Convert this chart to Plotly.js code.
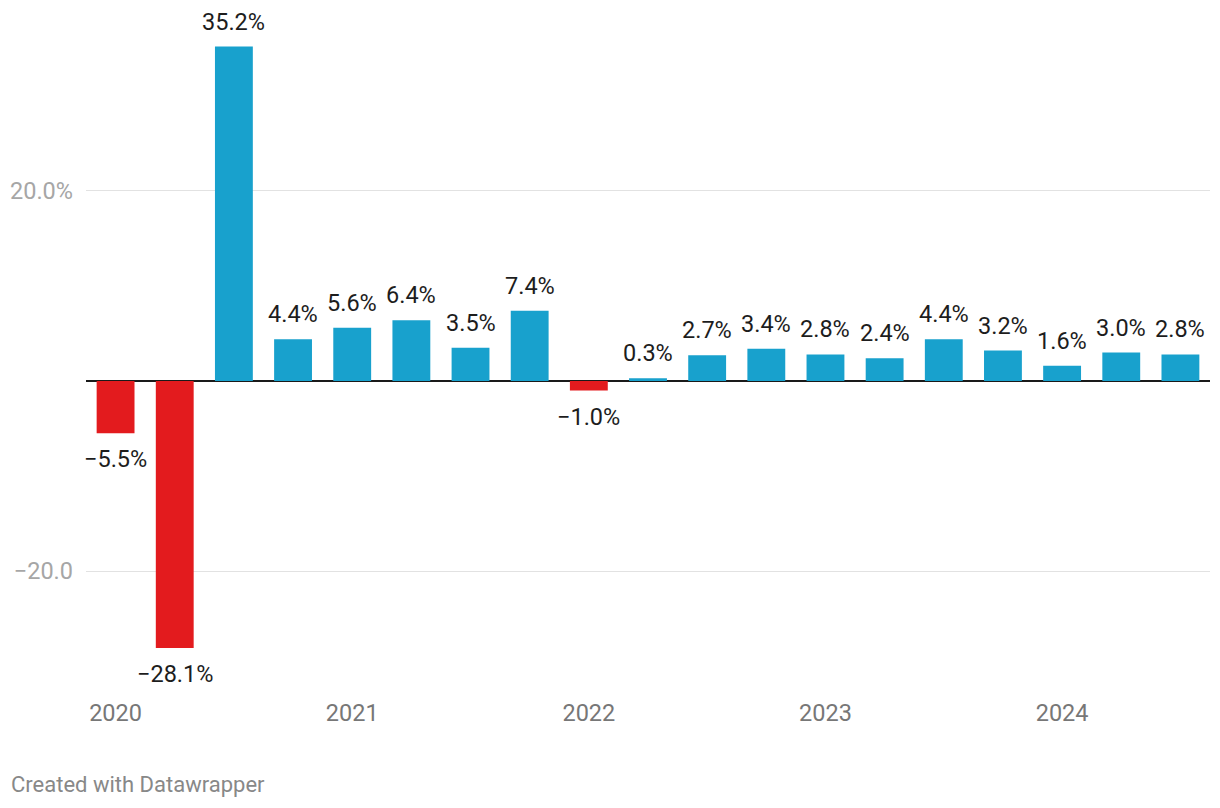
<!DOCTYPE html>
<html>
<head>
<meta charset="utf-8">
<script src="https://cdn.plot.ly/plotly-3.0.1.min.js"></script>
<style>
html,body{margin:0;padding:0;background:#fff;}
#chart{width:1220px;height:808px;}
</style>
</head>
<body>
<div id="chart"></div>
<script>
const quarters = ['2020 Q1','2020 Q2','2020 Q3','2020 Q4','2021 Q1','2021 Q2','2021 Q3','2021 Q4','2022 Q1','2022 Q2','2022 Q3','2022 Q4','2023 Q1','2023 Q2','2023 Q3','2023 Q4','2024 Q1','2024 Q2','2024 Q3'];
const growth = [-5.5, -28.1, 35.2, 4.4, 5.6, 6.4, 3.5, 7.4, -1.0, 0.3, 2.7, 3.4, 2.8, 2.4, 4.4, 3.2, 1.6, 3.0, 2.8];
const yearTickVals = ['2020 Q1','2021 Q1','2022 Q1','2023 Q1','2024 Q1'];
const yearTickText = ['2020','2021','2022','2023','2024'];
const yTickVals = [20, 0, -20];
const yTickText = ['20.0%', '', '\u221220.0'];

const BLUE = '#18a1cd', RED = '#e31b1e';
const fmt = v => (v < 0 ? '\u2212' : '') + Math.abs(v).toFixed(1) + '%';

const trace = {
  type: 'bar',
  x: quarters,
  y: growth,
  marker: {color: growth.map(v => v < 0 ? RED : BLUE)},
  width: 0.64,
  hoverinfo: 'x+y'
};

const annotations = quarters.map((q, i) => ({
  x: q, y: growth[i], xref: 'x', yref: 'y',
  text: fmt(growth[i]), showarrow: false,
  yshift: growth[i] >= 0 ? 25 : -26,
  font: {family: 'Roboto', size: 23.5, color: '#1d1d1d'}
}));
annotations.push({
  xref: 'paper', yref: 'paper', x: 0, y: 0, xanchor: 'left', yanchor: 'middle',
  xshift: -77, yshift: -104,
  text: 'Created with Datawrapper', showarrow: false,
  font: {family: 'Roboto', size: 22, color: '#888888'}
});

const layout = {
  width: 1220, height: 808,
  margin: {l: 86, r: 10, t: 10, b: 128},
  paper_bgcolor: '#fff', plot_bgcolor: '#fff',
  showlegend: false,
  bargap: 0.36,
  xaxis: {
    type: 'category', range: [-0.5, 18.5],
    tickvals: yearTickVals, ticktext: yearTickText,
    ticks: '', showgrid: false, zeroline: false, showline: false,
    ticklabelstandoff: 16,
    tickfont: {family: 'Roboto', size: 23.5, color: '#777777'}
  },
  yaxis: {
    range: [-31.47, 39.05],
    tickvals: yTickVals, ticktext: yTickText,
    ticks: '', showgrid: true, gridcolor: '#e2e2e2', gridwidth: 1,
    zeroline: true, zerolinecolor: '#1a1a1a', zerolinewidth: 2,
    showline: false, ticklabelstandoff: 12,
    tickfont: {family: 'Roboto', size: 23.5, color: '#a6a6a6'}
  },
  annotations: annotations
};

Plotly.newPlot('chart', [trace], layout, {displayModeBar: false, staticPlot: true});
</script>
</body>
</html>
